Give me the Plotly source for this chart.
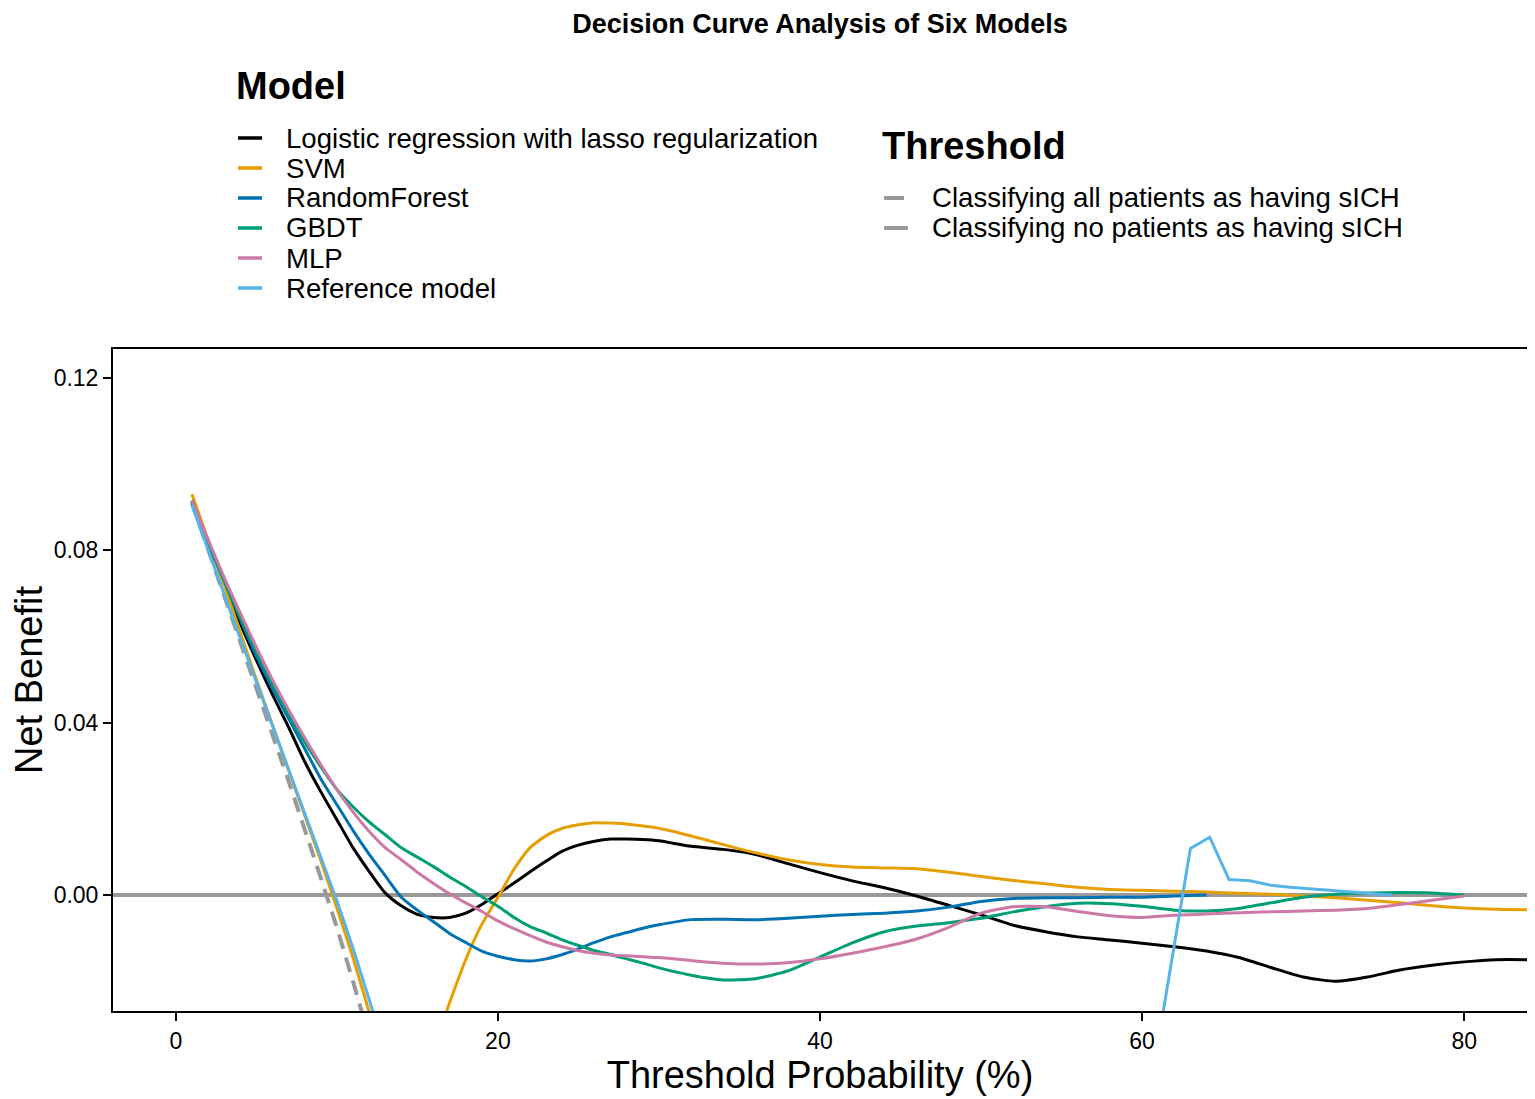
import plotly.graph_objects as go

# Net benefit curves (threshold in %, net benefit)
grid_x = list(range(1, 31)) + list(range(32, 86, 2))

lasso_y = [0.0915, 0.082, 0.0725, 0.063, 0.0545, 0.0465, 0.039, 0.031, 0.024, 0.0175,
           0.011, 0.0055, 0.0005, -0.0025, -0.0045, -0.0052, -0.0052, -0.0042, -0.0022, 0.0003,
           0.0028, 0.0054, 0.0079, 0.0102, 0.0116, 0.0125, 0.013, 0.013, 0.0129, 0.0126,
           0.0113, 0.0106, 0.0094, 0.0073, 0.0052, 0.0033, 0.0017, -0.0002, -0.0024, -0.0046,
           -0.007, -0.0085, -0.0097, -0.0104, -0.0112, -0.012, -0.013, -0.0145, -0.0168, -0.019,
           -0.02, -0.019, -0.0174, -0.0163, -0.0155, -0.015, -0.015]

svm_y = [0.093, 0.0825, 0.072, 0.061, 0.050, 0.0395, 0.029, 0.0185, 0.008, -0.003,
         -0.0145, -0.027, -0.039, -0.05, -0.05, -0.036, -0.025, -0.015, -0.0068, -0.0005,
         0.006, 0.011, 0.0138, 0.0155, 0.0163, 0.0168, 0.0167, 0.0165, 0.016, 0.0155,
         0.0137, 0.0117, 0.0098, 0.0082, 0.0071, 0.0065, 0.0063, 0.0061, 0.0053, 0.0043,
         0.0034, 0.0026, 0.0018, 0.0013, 0.0011, 0.0009, 0.0007, 0.0004, 0.0002, -0.0002,
         -0.0006, -0.0012, -0.0018, -0.0025, -0.003, -0.0033, -0.0034]

rf_x = list(range(1, 31)) + list(range(32, 66, 2))
rf_y = [0.0915, 0.082, 0.073, 0.064, 0.0555, 0.048, 0.041, 0.034, 0.027, 0.021,
        0.015, 0.0095, 0.0045, -0.0005, -0.0035, -0.0062, -0.0089, -0.011, -0.013, -0.0142,
        -0.015, -0.0153, -0.0148, -0.0138, -0.0125, -0.011, -0.0097, -0.0087, -0.0077, -0.0069,
        -0.0057, -0.0056, -0.0057, -0.0054, -0.0049, -0.0045, -0.0042, -0.0037, -0.0028, -0.0015,
        -0.0008, -0.0006, -0.0006, -0.0005, -0.0005, -0.0002, 0.0]

gbdt_x = list(range(1, 31)) + list(range(32, 82, 2))
gbdt_y = [0.0915, 0.082, 0.073, 0.0645, 0.0565, 0.049, 0.042, 0.0355, 0.0298, 0.0245,
          0.0205, 0.017, 0.014, 0.011, 0.0088, 0.0066, 0.0042, 0.002, -0.0004, -0.0026,
          -0.0052, -0.0073, -0.0088, -0.0104, -0.0117, -0.0129, -0.0138, -0.0148, -0.0158, -0.0169,
          -0.0186, -0.0197, -0.0194, -0.0176, -0.0144, -0.0111, -0.0085, -0.0072, -0.0064, -0.0054,
          -0.0039, -0.0027, -0.0019, -0.002, -0.0026, -0.0035, -0.0037, -0.0031, -0.0018, -0.0005,
          0.0002, 0.0005, 0.0006, 0.0005, 0.0]

mlp_x = gbdt_x
mlp_y = [0.0915, 0.0825, 0.0737, 0.0655, 0.0575, 0.050, 0.043, 0.0365, 0.0303, 0.0245,
         0.0193, 0.0148, 0.011, 0.0082, 0.0053, 0.0027, 0.0003, -0.0018, -0.0038, -0.006,
         -0.0078, -0.0094, -0.0109, -0.012, -0.0129, -0.0135, -0.0139, -0.0141, -0.0143, -0.0145,
         -0.0152, -0.0158, -0.016, -0.0157, -0.0148, -0.0135, -0.012, -0.0102, -0.0075, -0.0042,
         -0.0027, -0.0027, -0.0038, -0.0048, -0.0052, -0.0047, -0.0044, -0.0041, -0.0039, -0.0037,
         -0.0035, -0.0031, -0.0022, -0.0012, -0.0002]

ref_x = [1, 2, 3, 4, 5, 6, 7, 8, 9, 10, 11, 12, 13, 15, 20, 30, 40, 50, 58, 60,
         61, 62, 63, 64.2, 65.4, 66.7, 68, 69.2, 70.4, 72, 74, 75.5]
ref_y = [0.0905, 0.080, 0.0698, 0.0596, 0.0494, 0.0393, 0.0292, 0.0191, 0.009, -0.0013,
         -0.0123, -0.0238, -0.036, -0.055, -0.07, -0.08, -0.08, -0.08, -0.075, -0.055,
         -0.034, -0.012, 0.0108, 0.0134, 0.0036, 0.0033, 0.0023, 0.0018, 0.0015, 0.001,
         0.0004, 0.0]

treat_all_x = [1, 3, 5, 7, 9, 10, 11, 12, 13]
treat_all_y = [0.091, 0.0695, 0.048, 0.0265, 0.004, -0.0075, -0.020, -0.033, -0.046]
treat_none_x = [-5, 90]
treat_none_y = [0, 0]

model_names = ["Logistic regression with lasso regularization", "SVM", "RandomForest",
               "GBDT", "MLP", "Reference model"]
model_colors = ["#000000", "#E69F00", "#0072B2", "#009E73", "#CC79A7", "#56B4E9"]
threshold_names = ["Classifying all patients as having sICH",
                   "Classifying no patients as having sICH"]
x_ticks = [0, 20, 40, 60, 80]
y_ticks = [0, 0.04, 0.08, 0.12]

FONT = "Liberation Sans, Arial, sans-serif"
GREY = "#999999"

# page size and plot area in page pixels; the html body adds an 8px margin
W, H, PAGE_PAD = 1535, 1099, 8
L, R, T, B = 113, 1527, 349, 1011


def px_x(px):
    return (px - L) / (R - L)


def px_y(py):
    return (B - py) / (B - T)


fig = go.Figure()

# threshold reference lines
fig.add_trace(go.Scatter(x=treat_all_x, y=treat_all_y, mode="lines", name=threshold_names[0],
                         line=dict(color=GREY, width=4, dash="15px,9px"), showlegend=False))
fig.add_trace(go.Scatter(x=treat_none_x, y=treat_none_y, mode="lines", name=threshold_names[1],
                         line=dict(color=GREY, width=4), showlegend=False))

series = [(grid_x, lasso_y), (grid_x, svm_y), (rf_x, rf_y),
          (gbdt_x, gbdt_y), (mlp_x, mlp_y), (ref_x, ref_y)]
for (xs, ys), name, color in zip(series, model_names, model_colors):
    shape = "linear" if name == "Reference model" else "spline"
    fig.add_trace(go.Scatter(
        x=xs, y=ys, mode="lines", name=name,
        line=dict(color=color, width=3, shape=shape, smoothing=0.6),
        showlegend=False,
    ))

# legend drawn by hand (ggplot-style spacing)
fig.add_annotation(text="<b>Model</b>", x=px_x(234), y=px_y(86), xref="paper", yref="paper",
                   xanchor="left", yanchor="middle", showarrow=False,
                   font=dict(size=38, color="black", family=FONT))
for i, (name, color) in enumerate(zip(model_names, model_colors)):
    row_y = 138 + 30 * i
    fig.add_shape(type="line", xref="paper", yref="paper",
                  x0=px_x(238), x1=px_x(262), y0=px_y(row_y), y1=px_y(row_y),
                  line=dict(color=color, width=3.5))
    fig.add_annotation(text=name, x=px_x(284), y=px_y(row_y), xref="paper", yref="paper",
                       xanchor="left", yanchor="middle", showarrow=False,
                       font=dict(size=27.6, color="black", family=FONT))

fig.add_annotation(text="<b>Threshold</b>", x=px_x(880), y=px_y(146), xref="paper", yref="paper",
                   xanchor="left", yanchor="middle", showarrow=False,
                   font=dict(size=38, color="black", family=FONT))
for i, name in enumerate(threshold_names):
    row_y = 198 + 30 * i
    fig.add_shape(type="line", xref="paper", yref="paper",
                  x0=px_x(884), x1=px_x(904 if i == 0 else 908), y0=px_y(row_y), y1=px_y(row_y),
                  line=dict(color=GREY, width=4))
    fig.add_annotation(text=name, x=px_x(930), y=px_y(row_y), xref="paper", yref="paper",
                       xanchor="left", yanchor="middle", showarrow=False,
                       font=dict(size=27.6, color="black", family=FONT))

axis_style = dict(
    showline=True, mirror=True, linecolor="black", linewidth=2,
    ticks="outside", ticklen=8, tickwidth=2, tickcolor="black",
    showgrid=False, zeroline=False, automargin=False,
    tickfont=dict(size=23, color="black", family=FONT),
)

fig_w, fig_h = W - PAGE_PAD, H - PAGE_PAD
fig.update_layout(
    width=fig_w, height=fig_h,
    margin=dict(l=L - PAGE_PAD, r=W - R, t=T - PAGE_PAD, b=H - B),
    plot_bgcolor="white", paper_bgcolor="white",
    font=dict(family=FONT, color="black"),
    title=dict(text="<b>Decision Curve Analysis of Six Models</b>", x=0.5, xref="paper",
               y=1 - (24 - PAGE_PAD) / fig_h, yref="container", xanchor="center", yanchor="middle",
               font=dict(size=27, color="black", family=FONT)),
    xaxis=dict(range=[-3.9, 83.9], tickvals=x_ticks,
               title=dict(text="Threshold Probability (%)", standoff=3,
                          font=dict(size=38, color="black", family=FONT)),
               **axis_style),
    yaxis=dict(range=[-0.0269, 0.1267], tickvals=y_ticks, tickformat=".2f",
               title=dict(text="Net Benefit", standoff=11,
                          font=dict(size=38, color="black", family=FONT)),
               **axis_style),
    showlegend=False,
)

fig.write_html("out.html")
